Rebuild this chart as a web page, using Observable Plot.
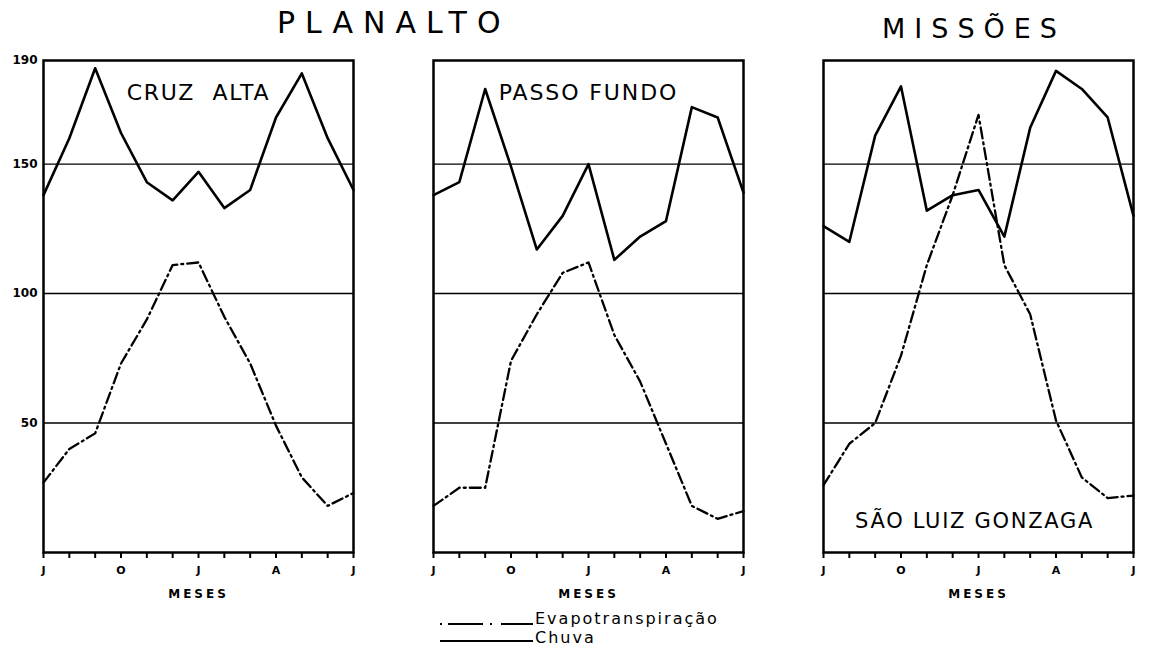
<!DOCTYPE html>
<html>
<head>
<meta charset="utf-8">
<script src="https://cdn.jsdelivr.net/npm/d3@7"></script>
<script src="https://cdn.jsdelivr.net/npm/@observablehq/plot@0.6"></script>
<style>
  body { margin: 0; background: #fff; }
  #wrap { position: relative; width: 1152px; height: 653px; overflow: hidden; font-family: "DejaVu Sans", sans-serif; color: #000; }
  #chart { position: absolute; left: 0; top: 0; }
  .abs { position: absolute; white-space: pre; }
</style>
</head>
<body>
<div id="wrap">
  <div id="chart"></div>
  <div class="abs" style="left:277px; top:8px; font-size:30px; line-height:30px; letter-spacing:10px;">PLANALTO</div>
  <div class="abs" style="left:882px; top:15px; font-size:27px; line-height:27px; letter-spacing:9px;">MISSÕES</div>
  <svg class="abs" style="left:0; top:0; overflow:visible" width="1" height="1">
    <line x1="440" y1="624" x2="533" y2="624" stroke="#000" stroke-width="2" stroke-dasharray="2,6,35,7,2,9,40"></line>
    <line x1="440" y1="641" x2="533" y2="641" stroke="#000" stroke-width="2"></line>
  </svg>
  <div class="abs" style="left:535px; top:611.5px; font-size:16px; line-height:13px; letter-spacing:2px;">Evapotranspiração</div>
  <div class="abs" style="left:535px; top:630.5px; font-size:16px; line-height:13px; letter-spacing:2px;">Chuva</div>
</div>
<script>
// ---- data ----
const stations = ["CRUZ ALTA", "PASSO FUNDO", "SÃO LUIZ GONZAGA"];
const months = ["Jul","Ago","Set","Out","Nov","Dez","Jan","Fev","Mar","Abr","Mai","Jun","Jul"];
const xTickLabels = ["J","","","O","","","J","","","A","","","J"];
const yTicks = [50, 100, 150, 190];
const gridValues = [50, 100, 150];

const chuvaCruzAlta   = [138, 160, 187, 162, 143, 136, 147, 133, 140, 168, 185, 160, 140];
const chuvaPassoFundo = [138, 143, 179, 149, 117, 130, 150, 113, 122, 128, 172, 168, 139];
const chuvaSaoLuiz    = [126, 120, 161, 180, 132, 138, 140, 122, 164, 186, 179, 168, 130];

const etCruzAlta   = [27, 40, 46, 73, 90, 111, 112, 91, 73, 49, 29, 18, 23];
const etPassoFundo = [18, 25, 25, 74, 92, 108, 112, 84, 66, 42, 18, 13, 16];
const etSaoLuiz    = [26, 42, 50, 76, 111, 138, 169, 111, 92, 51, 29, 21, 22];

const topLabels = [
  {station: "CRUZ ALTA", label: "CRUZ \u00a0ALTA"},
  {station: "PASSO FUNDO", label: "PASSO FUNDO"}
];
const bottomLabels = [
  {station: "SÃO LUIZ GONZAGA", label: "SÃO LUIZ GONZAGA"}
];

// ---- tables ----
const toRows = (series) => stations.flatMap((s, k) => series[k].map((v, i) => ({station: s, i, month: months[i], v})));
const chuva = toRows([chuvaCruzAlta, chuvaPassoFundo, chuvaSaoLuiz]);
const evapo = toRows([etCruzAlta, etPassoFundo, etSaoLuiz]);

const chart = Plot.plot({
  width: 1152,
  height: 653,
  marginTop: 60,
  marginBottom: 101,
  marginLeft: 43,
  marginRight: 18,
  style: {fontFamily: "DejaVu Sans", fontSize: "11px", color: "#000", background: "#fff"},
  fx: {domain: stations, paddingInner: 0.205, paddingOuter: 0, axis: null, label: null},
  x: {domain: [0, 12]},
  y: {domain: [0, 190]},
  marks: [
    Plot.ruleY(gridValues, {stroke: "#000", strokeWidth: 1.4}),
    Plot.line(evapo, {fx: "station", x: "i", y: "v", stroke: "#000", strokeWidth: 2.3, strokeDasharray: "11,4,2,4"}),
    Plot.line(chuva, {fx: "station", x: "i", y: "v", stroke: "#000", strokeWidth: 2.6}),
    Plot.frame({stroke: "#000", strokeWidth: 2.5}),
    Plot.axisX(d3.range(13), {tickSize: 6, tickPadding: 8, strokeWidth: 2, tickFormat: i => xTickLabels[i], fontWeight: "bold", fontSize: 11, label: null}),
    Plot.axisY(yTicks, {tickSize: 0, tickPadding: 6, fontWeight: "bold", fontSize: 12, label: null}),
    Plot.text(["MESES"], {text: d => d, frameAnchor: "bottom", lineAnchor: "bottom", dy: 45, fontWeight: "bold", fontSize: 12}),
    Plot.text(topLabels, {fx: "station", text: "label", frameAnchor: "top", lineAnchor: "bottom", dy: 39, fontSize: 22}),
    Plot.text(bottomLabels, {fx: "station", text: "label", frameAnchor: "bottom", lineAnchor: "bottom", dy: -25, dx: -4, fontSize: 21})
  ]
});
document.getElementById("chart").appendChild(chart);

// letter spacing for the hand-lettered labels
const spaced = new Map([["CRUZ \u00a0ALTA", "1.7px"], ["PASSO FUNDO", "1.9px"], ["SÃO LUIZ GONZAGA", "1.7px"], ["MESES", "3px"]]);
d3.select(chart).selectAll("text").each(function() {
  const t = this.textContent;
  if (spaced.has(t)) this.style.letterSpacing = spaced.get(t);
});
</script>
</body>
</html>
